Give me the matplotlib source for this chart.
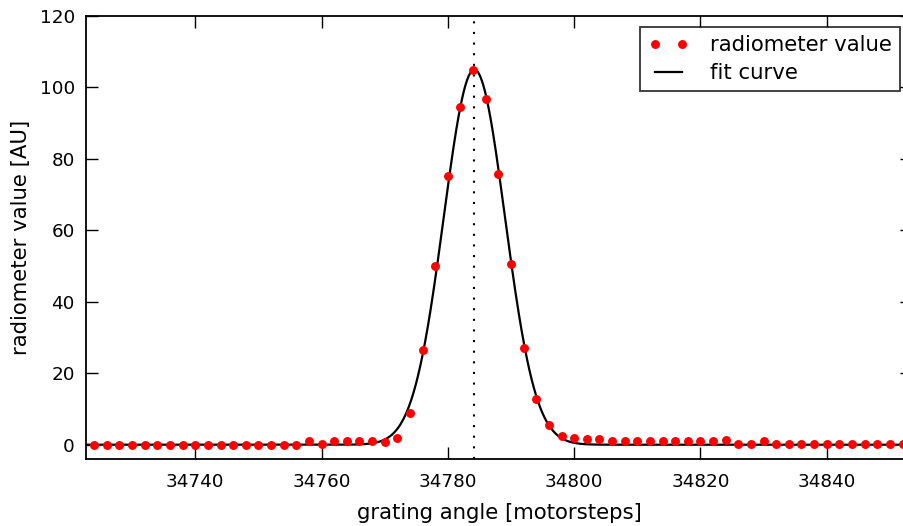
import numpy as np
import matplotlib
matplotlib.use("Agg")
import matplotlib.pyplot as plt

# Grating scan: motor position vs. radiometer reading
steps = np.arange(34724, 34853, 2)
radiometer = [
    0.0, 0.0, 0.0, 0.0, 0.0, 0.0, 0.0, 0.0, 0.0,      # 34724 - 34740
    0.0, 0.0, 0.0, 0.0, 0.0, 0.0, 0.0, 0.0,           # 34742 - 34756
    0.9, 0.1, 0.9, 1.0, 1.0, 0.9, 0.7, 1.9,           # 34758 - 34772
    8.8, 26.4, 50.1, 75.3, 94.6, 105.0, 96.7, 75.9,   # 34774 - 34788
    50.5, 27.1, 12.9, 5.5, 2.4, 1.8, 1.5, 1.5,        # 34790 - 34804
    0.9, 0.9, 0.9, 0.9, 0.9, 0.9, 0.9, 0.9, 0.9,      # 34806 - 34822
    1.3, 0.1, 0.1, 1.1,                               # 34824 - 34830
    0.2, 0.2, 0.2, 0.2, 0.2, 0.2, 0.2, 0.2, 0.2, 0.2, 0.2,  # 34832 - 34852
]

# Gaussian fit parameters
fit_amplitude = 105.0
fit_center = 34784.2
fit_sigma = 4.85
fit_offset = 0.0

x_ticks = [34740, 34760, 34780, 34800, 34820, 34840]
y_ticks = [0, 20, 40, 60, 80, 100, 120]

W, H = 904, 526
fig = plt.figure(figsize=(W / 100, H / 100), dpi=100)
ax = fig.add_axes([86 / W, (H - 459) / H, (912 - 86) / W, (459 - 16) / H])

x_fine = np.linspace(steps[0] - 4, steps[-1] + 4, 1200)
fit = fit_offset + fit_amplitude * np.exp(-(x_fine - fit_center) ** 2 / (2 * fit_sigma ** 2))

ax.plot(steps, radiometer, linestyle="none", marker="o", markersize=5.4,
        color="red", markeredgecolor="red", label="radiometer value", zorder=3)
ax.plot(x_fine, fit, color="black", linewidth=1.6, label="fit curve", zorder=2)
ax.axvline(fit_center, color="black", linewidth=1.5,
           linestyle=(0, (1.0, 4.1)), zorder=1)

ax.set_xlim(34722.7, 34853.5)
ax.set_ylim(-4, 120)
ax.set_xticks(x_ticks)
ax.set_yticks(y_ticks)

for s in ax.spines.values():
    s.set_linewidth(1.3)
ax.tick_params(direction="in", length=8.4, width=1.0, top=True, right=True,
               labelsize=13.2, colors="black")
ax.tick_params(axis="x", pad=10)
ax.tick_params(axis="y", pad=8)

label_size = 15.3
ax.set_xlabel("grating angle [motorsteps]", fontsize=label_size, labelpad=8.6)
ax.set_ylabel("radiometer value [AU]", fontsize=label_size, labelpad=6)

leg = ax.legend(loc="upper right", bbox_to_anchor=(900 / W, 1 - 27 / H),
                bbox_transform=fig.transFigure, borderaxespad=0,
                numpoints=2, fontsize=label_size, fancybox=False, frameon=True,
                handlelength=1.9, handletextpad=1.0, borderpad=0.38,
                labelspacing=0.38)
leg.get_frame().set_edgecolor("black")
leg.get_frame().set_linewidth(1.3)

fig.savefig("out.png", dpi=100)
